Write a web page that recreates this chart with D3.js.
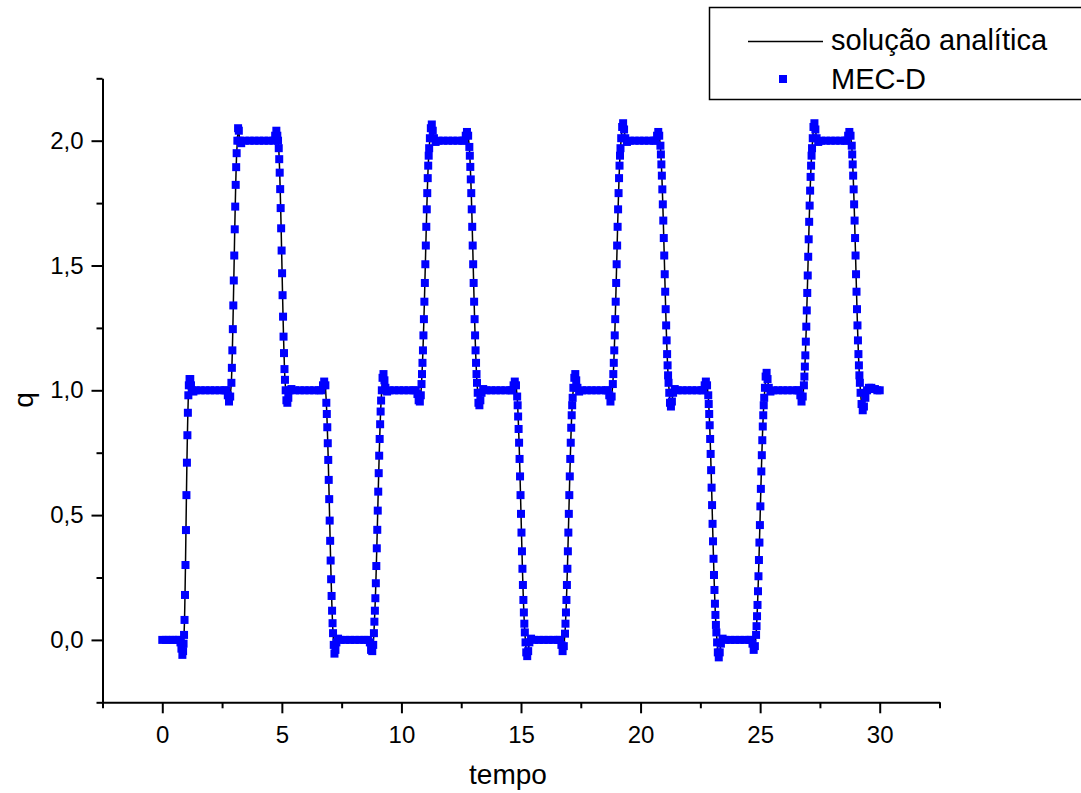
<!DOCTYPE html>
<html>
<head>
<meta charset="utf-8">
<script src="https://cdn.jsdelivr.net/npm/d3@7"></script>
<style>
	body { margin: 0; background: #fff; }
	text { font-family: Arial, "Liberation Sans", sans-serif; fill: #000; }
</style>
</head>
<body>
<svg id="chart" width="1081" height="793"></svg>
<script>
// pontos: patamares (P) e rampas (R), na mesma ordem nos dois arrays
var tempo = [
	0, 0.15, 0.3, 0.45, 0.6, 0.7, 0.76, 0.8, 0.84, 0.87, 0.89,                                   // P0
	0.91, 0.93, 0.95, 0.97, 0.99, 1.01, 1.03, 1.05, 1.07, 1.09,                                  // R1
	1.11, 1.14, 1.17, 1.2, 1.24, 1.3, 1.4, 1.6, 1.8, 2.0, 2.2, 2.4, 2.6, 2.68, 2.74, 2.79, 2.84, // P1
	2.89, 2.91, 2.93, 2.95, 2.97, 2.99, 3.01, 3.03, 3.05, 3.07, 3.09, 3.11,                      // R2
	3.14, 3.17, 3.2, 3.24, 3.3, 3.45, 3.65, 3.85, 4.05, 4.25, 4.45, 4.65, 4.72, 4.77, 4.81, 4.84, // P2
	4.87, 4.89, 4.91, 4.93, 4.95, 4.97, 4.99, 5.01, 5.03, 5.05, 5.07, 5.09, 5.11, 5.13,          // R3
	5.16, 5.19, 5.23, 5.27, 5.32, 5.4, 5.55, 5.75, 5.95, 6.15, 6.35, 6.55, 6.65, 6.72, 6.77, 6.82, // P3
	6.86, 6.88, 6.9, 6.92, 6.94, 6.96, 6.98, 7.0, 7.02, 7.04, 7.06, 7.08, 7.1, 7.12, 7.14,       // R4
	7.17, 7.2, 7.24, 7.28, 7.35, 7.45, 7.65, 7.85, 8.05, 8.25, 8.45, 8.6, 8.68, 8.73, 8.78, 8.82, // P4
	8.85, 8.87, 8.89, 8.91, 8.93, 8.95, 8.97, 8.99, 9.01, 9.03, 9.05, 9.07, 9.09, 9.11, 9.13, 9.15, // R5
	9.18, 9.21, 9.25, 9.29, 9.33, 9.4, 9.5, 9.7, 9.9, 10.1, 10.3, 10.5, 10.6, 10.67, 10.72, 10.77, 10.81, // P5
	10.84, 10.86, 10.88, 10.9, 10.92, 10.94, 10.96, 10.98, 11.0, 11.02, 11.04, 11.06, 11.08, 11.1, 11.12, 11.14, 11.16, // R6
	11.19, 11.23, 11.27, 11.31, 11.36, 11.43, 11.55, 11.75, 11.95, 12.15, 12.35, 12.55, 12.63, 12.69, 12.74, 12.79, // P6
	12.84, 12.86, 12.88, 12.9, 12.92, 12.94, 12.96, 12.98, 13.0, 13.02, 13.04, 13.06, 13.08, 13.1, 13.12, 13.14, 13.16, // R7
	13.19, 13.22, 13.26, 13.3, 13.35, 13.42, 13.55, 13.75, 13.95, 14.15, 14.35, 14.55, 14.63, 14.69, 14.74, 14.79, // P7
	14.84, 14.86, 14.88, 14.9, 14.92, 14.94, 14.96, 14.98, 15.0, 15.02, 15.04, 15.06, 15.08, 15.1, 15.12, 15.14, 15.16, // R8
	15.19, 15.22, 15.26, 15.3, 15.35, 15.42, 15.55, 15.75, 15.95, 16.15, 16.35, 16.55, 16.63, 16.69, 16.74, 16.79, // P8
	16.84, 16.86, 16.88, 16.9, 16.92, 16.94, 16.96, 16.98, 17.0, 17.02, 17.04, 17.06, 17.08, 17.1, 17.12, 17.14, 17.16, // R9
	17.19, 17.23, 17.27, 17.31, 17.36, 17.43, 17.55, 17.75, 17.95, 18.15, 18.35, 18.55, 18.63, 18.69, 18.74, 18.79, // P9
	18.84, 18.86, 18.88, 18.9, 18.92, 18.94, 18.96, 18.98, 19.0, 19.02, 19.04, 19.06, 19.08, 19.1, 19.12, 19.14, 19.16, // R10
	19.19, 19.23, 19.27, 19.31, 19.36, 19.43, 19.55, 19.75, 19.95, 20.15, 20.35, 20.55, 20.63, 20.69, 20.74, 20.78, // P10
	20.83, 20.85, 20.87, 20.89, 20.91, 20.93, 20.95, 20.97, 20.99, 21.01, 21.03, 21.05, 21.07, 21.09, 21.11, 21.13, 21.15, 21.17, // R11
	21.2, 21.23, 21.27, 21.31, 21.36, 21.43, 21.55, 21.75, 21.95, 22.15, 22.35, 22.55, 22.62, 22.68, 22.73, 22.78, // P11
	22.83, 22.85, 22.87, 22.89, 22.91, 22.93, 22.95, 22.97, 22.99, 23.01, 23.03, 23.05, 23.07, 23.09, 23.11, 23.13, 23.15, 23.17, // R12
	23.2, 23.23, 23.27, 23.31, 23.36, 23.43, 23.55, 23.75, 23.95, 24.15, 24.35, 24.55, 24.62, 24.68, 24.73, 24.78, // P12
	24.83, 24.85, 24.87, 24.89, 24.91, 24.93, 24.95, 24.97, 24.99, 25.01, 25.03, 25.05, 25.07, 25.09, 25.11, 25.13, 25.15, 25.17, // R13
	25.2, 25.23, 25.27, 25.31, 25.36, 25.43, 25.55, 25.75, 25.95, 26.15, 26.35, 26.55, 26.62, 26.68, 26.73, 26.78, // P13
	26.83, 26.85, 26.87, 26.89, 26.91, 26.93, 26.95, 26.97, 26.99, 27.01, 27.03, 27.05, 27.07, 27.09, 27.11, 27.13, 27.15, 27.17, // R14
	27.2, 27.23, 27.27, 27.31, 27.36, 27.43, 27.55, 27.75, 27.95, 28.15, 28.35, 28.55, 28.62, 28.68, 28.73, 28.78, // P14
	28.83, 28.85, 28.87, 28.89, 28.91, 28.93, 28.95, 28.97, 28.99, 29.01, 29.03, 29.05, 29.07, 29.09, 29.11, 29.13, 29.15, 29.17, // R15
	29.2, 29.24, 29.29, 29.34, 29.4, 29.47, 29.55, 29.65, 29.8, 29.9, 30.0                       // P15
];
var qMEC = [
	0, 0, 0, 0, 0, 0, -0.01, -0.035, -0.06, -0.045, -0.015,
	0.02, 0.08, 0.18, 0.30, 0.44, 0.58, 0.71, 0.82, 0.91, 0.98,
	1.02, 1.045, 1.045, 1.02, 1.0, 0.995, 1.0, 1, 1, 1, 1, 1, 1, 1.0, 0.98, 0.955, 0.975,
	1.03, 1.09, 1.16, 1.245, 1.34, 1.44, 1.54, 1.645, 1.736, 1.823, 1.894, 1.95,
	2.0, 2.05, 2.04, 2.0, 1.99, 2.0, 2, 2, 2, 2, 2, 2, 2.02, 2.04, 2.02, 2.0,
	1.97, 1.926, 1.872, 1.806, 1.73, 1.649, 1.56, 1.469, 1.381, 1.295, 1.215, 1.149, 1.085, 1.042,
	1.0, 0.96, 0.95, 0.97, 1.0, 1.005, 1, 1, 1, 1, 1, 1, 1.0, 1.02, 1.035, 1.02,
	0.95, 0.905, 0.852, 0.788, 0.721, 0.641, 0.564, 0.478, 0.397, 0.318, 0.243, 0.176, 0.117, 0.067, 0.027,
	-0.02, -0.055, -0.04, -0.01, 0.005, 0, 0, 0, 0, 0, 0, 0, -0.01, -0.04, -0.045, -0.02,
	0.027, 0.073, 0.117, 0.167, 0.227, 0.296, 0.367, 0.441, 0.518, 0.594, 0.668, 0.738, 0.805, 0.864, 0.915, 0.959,
	1.0, 1.05, 1.065, 1.04, 1.01, 0.995, 1, 1, 1, 1, 1, 1, 1.0, 0.985, 0.96, 0.955, 0.98,
	1.025, 1.065, 1.11, 1.16, 1.22, 1.285, 1.355, 1.43, 1.505, 1.58, 1.655, 1.725, 1.79, 1.85, 1.9, 1.94, 1.97,
	2.01, 2.05, 2.065, 2.04, 2.01, 1.995, 2, 2, 2, 2, 2, 2, 2.0, 2.02, 2.035, 2.02,
	1.975, 1.94, 1.895, 1.845, 1.79, 1.725, 1.655, 1.58, 1.505, 1.43, 1.355, 1.285, 1.22, 1.16, 1.11, 1.065, 1.03,
	0.99, 0.95, 0.94, 0.96, 0.99, 1.005, 1, 1, 1, 1, 1, 1, 1.0, 1.02, 1.035, 1.02,
	0.975, 0.94, 0.895, 0.845, 0.79, 0.725, 0.655, 0.58, 0.505, 0.43, 0.355, 0.285, 0.22, 0.16, 0.11, 0.065, 0.03,
	-0.01, -0.05, -0.065, -0.045, -0.01, 0.005, 0, 0, 0, 0, 0, 0, 0, -0.02, -0.045, -0.025,
	0.025, 0.065, 0.11, 0.16, 0.22, 0.285, 0.355, 0.43, 0.505, 0.58, 0.655, 0.725, 0.79, 0.85, 0.9, 0.94, 0.97,
	1.01, 1.05, 1.065, 1.04, 1.01, 0.995, 1, 1, 1, 1, 1, 1, 1.0, 0.98, 0.955, 0.975,
	1.025, 1.065, 1.11, 1.16, 1.22, 1.285, 1.355, 1.43, 1.505, 1.58, 1.655, 1.725, 1.79, 1.85, 1.9, 1.94, 1.97,
	2.01, 2.055, 2.07, 2.045, 2.01, 1.995, 2, 2, 2, 2, 2, 2, 2.0, 2.02, 2.035, 2.02,
	1.98, 1.945, 1.905, 1.86, 1.805, 1.745, 1.68, 1.61, 1.54, 1.465, 1.395, 1.325, 1.26, 1.2, 1.145, 1.1, 1.06, 1.03,
	0.99, 0.95, 0.935, 0.955, 0.99, 1.005, 1, 1, 1, 1, 1, 1, 1.0, 1.02, 1.035, 1.02,
	0.98, 0.945, 0.905, 0.86, 0.805, 0.745, 0.68, 0.61, 0.54, 0.465, 0.395, 0.325, 0.26, 0.2, 0.145, 0.1, 0.06, 0.03,
	-0.01, -0.05, -0.07, -0.05, -0.015, 0.005, 0, 0, 0, 0, 0, 0, 0, -0.015, -0.04, -0.025,
	0.02, 0.055, 0.095, 0.14, 0.195, 0.255, 0.32, 0.39, 0.46, 0.535, 0.605, 0.675, 0.74, 0.8, 0.855, 0.9, 0.94, 0.97,
	1.01, 1.055, 1.07, 1.045, 1.01, 0.995, 1, 1, 1, 1, 1, 1, 1.0, 0.98, 0.955, 0.975,
	1.02, 1.055, 1.095, 1.14, 1.195, 1.255, 1.32, 1.39, 1.46, 1.535, 1.605, 1.675, 1.74, 1.8, 1.855, 1.9, 1.94, 1.97,
	2.01, 2.055, 2.07, 2.045, 2.01, 1.995, 2, 2, 2, 2, 2, 2, 2.0, 2.02, 2.035, 2.02,
	1.98, 1.945, 1.905, 1.86, 1.805, 1.745, 1.68, 1.61, 1.54, 1.465, 1.395, 1.325, 1.26, 1.2, 1.145, 1.1, 1.06, 1.03,
	0.99, 0.945, 0.92, 0.935, 0.97, 1.0, 1.01, 1.01, 1.005, 1.0, 1.0
];
// a solucao analitica coincide com os pontos na escala do grafico
var qAnalitica = qMEC;

var xTicks = [0, 5, 10, 15, 20, 25, 30];
var xTickLabels = ['0', '5', '10', '15', '20', '25', '30'];
var xMinor = [-2.5, 2.5, 7.5, 12.5, 17.5, 22.5, 27.5, 32.5];
var yTicks = [0, 0.5, 1, 1.5, 2];
var yTickLabels = ['0,0', '0,5', '1,0', '1,5', '2,0'];
var yMinor = [-0.25, 0.25, 0.75, 1.25, 1.75, 2.25];
var legendLabels = ['solução analítica', 'MEC-D'];

var svg = d3.select('#chart');
var x = d3.scaleLinear().domain([-2.5, 32.5]).range([102.5, 939.5]);
var y = d3.scaleLinear().domain([-0.25, 2.25]).range([702.3, 78.3]);

var n = Math.min(tempo.length, qMEC.length);
var pts = d3.range(n).map(function(i){ return {t: tempo[i], q: qMEC[i], qa: qAnalitica[i]}; });

// eixos
function styleAxis(g){
	g.selectAll('path.domain').attr('stroke', '#000').attr('stroke-width', 2);
	g.selectAll('.tick line').attr('stroke', '#000').attr('stroke-width', 2);
	g.selectAll('.tick text').attr('font-size', 24).attr('font-family', 'Arial, "Liberation Sans", sans-serif').attr('fill', '#000');
}
var gx = svg.append('g')
	.attr('transform', 'translate(0,' + y(-0.25) + ')')
	.call(d3.axisBottom(x).tickValues(xTicks)
		.tickFormat(function(d, i){ return xTickLabels[i]; })
		.tickSize(11).tickSizeOuter(0).tickPadding(13));
styleAxis(gx);
var gxm = svg.append('g')
	.attr('transform', 'translate(0,' + y(-0.25) + ')')
	.call(d3.axisBottom(x).tickValues(xMinor).tickFormat('').tickSize(6).tickSizeOuter(0));
gxm.select('path.domain').remove();
styleAxis(gxm);

var gy = svg.append('g')
	.attr('transform', 'translate(' + x(-2.5) + ',0)')
	.call(d3.axisLeft(y).tickValues(yTicks)
		.tickFormat(function(d, i){ return yTickLabels[i]; })
		.tickSize(11).tickSizeOuter(0).tickPadding(8));
styleAxis(gy);
var gym = svg.append('g')
	.attr('transform', 'translate(' + x(-2.5) + ',0)')
	.call(d3.axisLeft(y).tickValues(yMinor).tickFormat('').tickSize(6).tickSizeOuter(0));
gym.select('path.domain').remove();
styleAxis(gym);

// titulos dos eixos
svg.append('text').attr('x', 508).attr('y', 784)
	.attr('text-anchor', 'middle').attr('font-size', 28).text('tempo');
svg.append('text').attr('transform', 'translate(33,400) rotate(-90)')
	.attr('text-anchor', 'middle').attr('font-size', 28).text('q');

// curva analitica
var line = d3.line()
	.x(function(d){ return x(d.t); })
	.y(function(d){ return y(d.qa); });
svg.append('path').datum(pts)
	.attr('d', line)
	.attr('fill', 'none')
	.attr('stroke', '#000')
	.attr('stroke-width', 1.5);

// pontos MEC-D
var ms = 8;
svg.append('g').selectAll('rect').data(pts).enter().append('rect')
	.attr('x', function(d){ return x(d.t) - ms / 2; })
	.attr('y', function(d){ return y(d.q) - ms / 2; })
	.attr('width', ms).attr('height', ms)
	.attr('fill', '#0000ff');

// legenda
var leg = svg.append('g');
leg.append('rect').attr('x', 709.5).attr('y', 7.5).attr('width', 400).attr('height', 92)
	.attr('fill', '#fff').attr('stroke', '#000').attr('stroke-width', 1.5);
leg.append('line').attr('x1', 748).attr('x2', 823).attr('y1', 41.5).attr('y2', 41.5)
	.attr('stroke', '#000').attr('stroke-width', 1.5);
leg.append('rect').attr('x', 779).attr('y', 75).attr('width', 8).attr('height', 8).attr('fill', '#0000ff');
leg.append('text').attr('x', 831).attr('y', 50).attr('font-size', 29).text(legendLabels[0]);
leg.append('text').attr('x', 831).attr('y', 89).attr('font-size', 29).text(legendLabels[1]);
</script>
</body>
</html>
